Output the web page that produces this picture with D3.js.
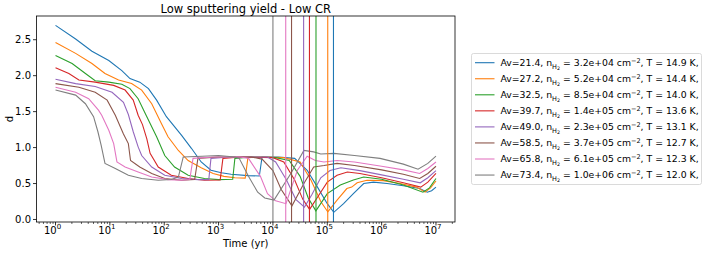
<!DOCTYPE html>
<html lang="en">
  <head>
    <meta charset="UTF-8" />
    <title>Low sputtering yield - Low CR</title>
    <script src="https://d3js.org/d3.v7.min.js"></script>
    <style>
      html,
      body {
        margin: 0;
        padding: 0;
        background-color: white;
        font-family: "DejaVu Sans", sans-serif;
      }
      .line {
        fill: none;
        stroke-width: 1.1;
      }
    </style>
  </head>
  <body>
    <svg id="chart"></svg>
    <script>
      // legend labels: Av, nH2 and T of each model
      const avValues = ["21.4", "27.2", "32.5", "39.7", "49.0", "58.5", "65.8", "73.4"];
      const densities = ["3.2e+04", "5.2e+04", "8.5e+04", "1.4e+05", "2.3e+05", "3.7e+05", "6.1e+05", "1.0e+06"];
      const temps = ["14.9", "14.4", "14.0", "13.6", "13.1", "12.7", "12.3", "12.0"];
      const colors = ["#1f77b4", "#ff7f0e", "#2ca02c", "#d62728", "#9467bd", "#8c564b", "#e377c2", "#7f7f7f"];

      // vertical marker lines (yr), one per model
      const markerTimes = [1.3e5, 1.02e5, 6.2e4, 4.7e4, 3.67e4, 2.2e4, 1.72e4, 1.0e4];

      // each series: [log10(time in yr), d]
      const sBlue = [[0,2.70],[0.37,2.51],[0.67,2.34],[0.98,2.21],[1.22,2.07],[1.37,1.96],[1.55,1.91],[1.71,1.82],[1.86,1.66],[2.04,1.43],[2.32,1.17],[2.50,0.99],[2.68,0.80],[2.86,0.685],[3.05,0.65],[3.23,0.63],[3.54,0.61],[3.75,0.605],[3.80,0.87],[4.10,0.87],[4.40,0.85],[4.63,0.685],[4.82,0.45],[5.00,0.22],[5.12,0.10],[5.30,0.22],[5.48,0.36],[5.67,0.50],[5.85,0.52],[6.10,0.50],[6.40,0.47],[6.70,0.43],[6.84,0.38],[6.92,0.40],[7.0,0.45]];
      const sOrange = [[0,2.46],[0.37,2.31],[0.67,2.17],[0.91,2.03],[1.16,1.94],[1.40,1.89],[1.585,1.80],[1.77,1.61],[1.95,1.33],[2.07,1.15],[2.26,0.96],[2.44,0.82],[2.68,0.72],[2.90,0.64],[3.10,0.60],[3.30,0.58],[3.49,0.575],[3.54,0.86],[3.80,0.87],[4.20,0.86],[4.50,0.80],[4.70,0.55],[4.88,0.25],[5.01,0.105],[5.18,0.27],[5.36,0.43],[5.45,0.45],[5.55,0.51],[5.73,0.545],[6.03,0.54],[6.34,0.50],[6.64,0.45],[6.80,0.38],[6.90,0.44],[7.0,0.535]];
      const sGreen = [[0,2.28],[0.305,2.17],[0.55,2.03],[0.73,1.93],[0.98,1.91],[1.22,1.88],[1.37,1.82],[1.52,1.68],[1.68,1.43],[1.86,1.15],[2.01,0.89],[2.19,0.73],[2.44,0.615],[2.74,0.57],[3.00,0.555],[3.26,0.56],[3.30,0.85],[3.60,0.87],[4.05,0.86],[4.30,0.82],[4.50,0.60],[4.65,0.30],[4.79,0.12],[5.00,0.36],[5.24,0.48],[5.48,0.55],[5.67,0.59],[6.00,0.56],[6.40,0.48],[6.76,0.38],[6.88,0.44],[7.0,0.57]];
      const sRed = [[0,2.11],[0.245,2.03],[0.43,1.94],[0.73,1.91],[1.07,1.865],[1.28,1.80],[1.43,1.66],[1.52,1.45],[1.60,1.32],[1.68,1.12],[1.74,0.92],[1.89,0.73],[2.13,0.615],[2.44,0.57],[2.74,0.546],[3.03,0.55],[3.08,0.85],[3.40,0.87],[4.00,0.86],[4.20,0.80],[4.40,0.55],[4.55,0.28],[4.675,0.14],[4.82,0.31],[5.00,0.52],[5.18,0.615],[5.37,0.66],[5.60,0.64],[6.00,0.58],[6.40,0.51],[6.72,0.45],[6.85,0.52],[7.0,0.64]];
      const sPurple = [[0,1.95],[0.37,1.89],[0.73,1.85],[1.04,1.77],[1.25,1.63],[1.34,1.46],[1.43,1.22],[1.52,1.01],[1.585,0.89],[1.77,0.73],[2.01,0.615],[2.32,0.57],[2.62,0.555],[2.82,0.555],[2.86,0.85],[3.20,0.87],[3.90,0.87],[4.05,0.80],[4.25,0.55],[4.42,0.28],[4.58,0.17],[4.72,0.35],[4.88,0.58],[5.05,0.68],[5.25,0.72],[5.60,0.68],[6.00,0.62],[6.40,0.56],[6.71,0.51],[6.85,0.58],[7.0,0.68]];
      const sBrown = [[0,1.89],[0.43,1.84],[0.73,1.77],[0.95,1.66],[1.10,1.45],[1.25,1.19],[1.34,1.055],[1.38,0.82],[1.55,0.73],[1.77,0.64],[2.01,0.57],[2.32,0.546],[2.56,0.555],[2.62,0.85],[3.00,0.87],[3.60,0.87],[3.80,0.84],[4.00,0.68],[4.15,0.42],[4.35,0.19],[4.57,0.50],[4.75,0.73],[4.94,0.75],[5.18,0.78],[5.50,0.75],[6.00,0.69],[6.40,0.63],[6.70,0.57],[6.85,0.64],[7.0,0.74]];
      const sPink = [[0,1.84],[0.37,1.77],[0.61,1.68],[0.79,1.52],[0.85,1.45],[0.98,1.24],[1.07,1.055],[1.13,0.80],[1.28,0.73],[1.52,0.66],[1.77,0.59],[2.07,0.555],[2.32,0.546],[2.47,0.555],[2.53,0.85],[2.90,0.87],[3.40,0.87],[3.55,0.85],[3.77,0.60],[3.90,0.36],[4.05,0.26],[4.24,0.22],[4.45,0.685],[4.63,0.88],[4.78,0.82],[4.94,0.80],[5.18,0.82],[5.50,0.80],[6.00,0.74],[6.40,0.69],[6.70,0.64],[6.85,0.71],[7.0,0.80]];
      const sGray = [[0,1.80],[0.37,1.73],[0.55,1.61],[0.70,1.43],[0.78,1.22],[0.84,1.03],[0.91,0.78],[1.10,0.71],[1.34,0.615],[1.585,0.57],[1.89,0.546],[2.13,0.555],[2.26,0.59],[2.35,0.87],[2.70,0.88],[3.00,0.89],[3.30,0.87],[3.38,0.85],[3.55,0.60],[3.72,0.38],[3.85,0.30],[4.02,0.27],[4.33,0.64],[4.57,0.96],[4.75,0.94],[4.88,0.91],[5.12,0.92],[5.50,0.89],[5.97,0.85],[6.40,0.77],[6.67,0.70],[6.85,0.78],[7.0,0.88]];
      const seriesList = [sBlue, sOrange, sGreen, sRed, sPurple, sBrown, sPink, sGray];

      const yTicks = [0, 0.5, 1.0, 1.5, 2.0, 2.5];
      const xTickExps = [0, 1, 2, 3, 4, 5, 6, 7];

      const W = 706, H = 253;
      const plot = { left: 36.5, right: 455, top: 16, bottom: 222 };

      const svg = d3.select("#chart").attr("width", W).attr("height", H);

      const x = d3.scaleLog()
        .domain([Math.pow(10, -0.35), Math.pow(10, 7.35)])
        .range([plot.left, plot.right]);
      const y = d3.scaleLinear()
        .domain([-0.035, 2.83])
        .range([plot.bottom, plot.top]);

      // clip so the vertical lines stay in the axes
      svg.append("clipPath").attr("id", "clip")
        .append("rect")
        .attr("x", plot.left).attr("y", plot.top)
        .attr("width", plot.right - plot.left)
        .attr("height", plot.bottom - plot.top);

      const g = svg.append("g").attr("clip-path", "url(#clip)");

      const line = d3.line()
        .x((d) => x(Math.pow(10, d[0])))
        .y((d) => y(d[1]));

      seriesList.forEach((s, i) => {
        g.append("path")
          .datum(s)
          .attr("class", "line")
          .attr("stroke", colors[i])
          .attr("d", line);
      });

      // vertical lines
      markerTimes.forEach((t, i) => {
        g.append("line")
          .attr("x1", x(t)).attr("x2", x(t))
          .attr("y1", plot.top).attr("y2", plot.bottom)
          .attr("stroke", colors[i])
          .attr("stroke-width", 1.1);
      });

      // axes
      const xAxis = svg.append("g").attr("transform", `translate(0,${plot.bottom})`);
      const minorTicks = [];
      for (let e = -1; e <= 7; e++) {
        for (let m = 2; m <= 9; m++) {
          const v = m * Math.pow(10, e);
          if (v > x.domain()[0] && v < x.domain()[1]) minorTicks.push(v);
        }
      }
      xAxis.selectAll(".minor").data(minorTicks).enter().append("line")
        .attr("x1", (d) => x(d)).attr("x2", (d) => x(d))
        .attr("y1", 0).attr("y2", 2)
        .attr("stroke", "#000").attr("stroke-width", 0.6);
      xAxis.selectAll(".major").data(xTickExps).enter().append("line")
        .attr("x1", (d) => x(Math.pow(10, d))).attr("x2", (d) => x(Math.pow(10, d)))
        .attr("y1", 0).attr("y2", 3.5)
        .attr("stroke", "#000").attr("stroke-width", 0.8);
      const xl = xAxis.selectAll(".lab").data(xTickExps).enter().append("text")
        .attr("x", (d) => x(Math.pow(10, d)) - 3)
        .attr("y", 11.8)
        .attr("text-anchor", "middle")
        .attr("font-size", 10);
      xl.append("tspan").text("10");
      xl.append("tspan").attr("dy", -4.5).attr("font-size", 7).text((d) => d);

      const yAxis = svg.append("g").attr("transform", `translate(${plot.left},0)`);
      yAxis.selectAll(".major").data(yTicks).enter().append("line")
        .attr("x1", -3.5).attr("x2", 0)
        .attr("y1", (d) => y(d)).attr("y2", (d) => y(d))
        .attr("stroke", "#000").attr("stroke-width", 0.8);
      yAxis.selectAll(".lab").data(yTicks).enter().append("text")
        .attr("x", -5.5)
        .attr("y", (d) => y(d) + 3.6)
        .attr("text-anchor", "end")
        .attr("font-size", 10)
        .text((d) => d.toFixed(1));

      // frame
      svg.append("rect")
        .attr("x", plot.left).attr("y", plot.top)
        .attr("width", plot.right - plot.left)
        .attr("height", plot.bottom - plot.top)
        .attr("fill", "none")
        .attr("stroke", "#000")
        .attr("stroke-width", 0.8);

      // labels
      svg.append("text")
        .attr("x", (plot.left + plot.right) / 2).attr("y", 12.5)
        .attr("text-anchor", "middle").attr("font-size", 11.5)
        .text("Low sputtering yield - Low CR");
      svg.append("text")
        .attr("x", (plot.left + plot.right) / 2).attr("y", 246.5)
        .attr("text-anchor", "middle").attr("font-size", 10)
        .text("Time (yr)");
      svg.append("text")
        .attr("transform", `translate(13,${(plot.top + plot.bottom) / 2}) rotate(-90)`)
        .attr("text-anchor", "middle").attr("font-size", 10)
        .text("d");

      // legend
      const lg = svg.append("g").attr("transform", "translate(471.5,53.5)");
      lg.append("rect")
        .attr("width", 230).attr("height", 131)
        .attr("rx", 2)
        .attr("fill", "white")
        .attr("stroke", "#d0d0d0")
        .attr("stroke-width", 0.8);
      avValues.forEach((av, i) => {
        const row = lg.append("g").attr("transform", `translate(0,${9.2 + i * 16.05})`);
        row.append("line")
          .attr("x1", 3.5).attr("x2", 23)
          .attr("stroke", colors[i]).attr("stroke-width", 1.1);
        const t = row.append("text").attr("x", 29).attr("y", 3.4).attr("font-size", 9.3);
        t.append("tspan").text(`Av=${av}, n`);
        t.append("tspan").attr("font-size", 6.5).attr("dy", 2.5).text("H");
        t.append("tspan").attr("font-size", 4.8).attr("dy", 1.3).text("2");
        t.append("tspan").attr("dy", -3.8).text(` = ${densities[i]} cm`);
        t.append("tspan").attr("font-size", 6.5).attr("dy", -3.5).text("\u22122");
        t.append("tspan").attr("dy", 3.5).text(`, T = ${temps[i]} K,`);
      });
    </script>
  </body>
</html>
